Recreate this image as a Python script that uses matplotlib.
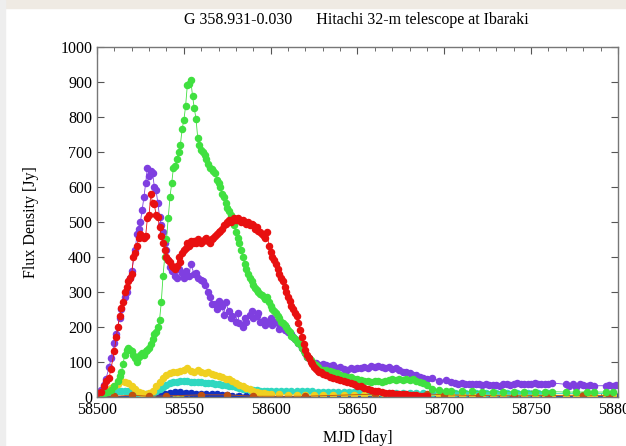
import matplotlib.pyplot as plt
from matplotlib.ticker import MultipleLocator
from matplotlib.patches import Rectangle

# (MJD, flux density in Jy) pairs
purple = [(58500, 15), (58502, 20), (58504, 35), (58505, 50), (58507, 85), (58508, 110), (58510, 155),
          (58511, 180), (58513, 225), (58514, 250), (58516, 285), (58517, 300), (58519, 340), (58520, 360),
          (58522, 420), (58523, 465), (58524, 480), (58525, 500), (58526, 535), (58527, 570), (58528, 610),
          (58529, 655), (58530, 630), (58531, 645), (58532, 640), (58533, 600), (58534, 590), (58535, 555),
          (58536, 515), (58537, 490), (58538, 470), (58539, 440), (58540, 420), (58541, 390), (58542, 370),
          (58543, 360), (58545, 345), (58546, 340), (58547, 365), (58549, 355), (58550, 340), (58551, 360),
          (58553, 345), (58554, 380), (58556, 350), (58557, 355), (58558, 340), (58560, 335), (58561, 330),
          (58562, 320), (58564, 300), (58565, 285), (58566, 265), (58568, 265), (58569, 250), (58570, 275),
          (58572, 260), (58573, 235), (58574, 270), (58576, 245), (58577, 225), (58578, 230), (58580, 215),
          (58581, 240), (58582, 210), (58584, 200), (58585, 225), (58586, 215), (58588, 235), (58589, 245),
          (58590, 225), (58592, 230), (58593, 240), (58594, 215), (58596, 220), (58597, 205), (58598, 215),
          (58600, 225), (58601, 205), (58602, 215), (58604, 210), (58605, 195), (58606, 205), (58608, 190),
          (58609, 200), (58610, 185), (58612, 180), (58613, 170), (58614, 165), (58616, 155), (58617, 150),
          (58618, 140), (58620, 125), (58621, 115), (58622, 110), (58624, 100), (58625, 95), (58626, 98),
          (58628, 90), (58630, 95), (58632, 92), (58634, 88), (58636, 90), (58638, 82), (58640, 86),
          (58642, 80), (58644, 78), (58646, 82), (58648, 80), (58650, 84), (58652, 82), (58654, 86),
          (58656, 84), (58658, 88), (58660, 86), (58662, 88), (58664, 86), (58666, 84), (58668, 86),
          (58670, 80), (58672, 82), (58674, 78), (58676, 72), (58678, 70), (58680, 68), (58682, 64),
          (58684, 62), (58686, 58), (58688, 55), (58690, 52), (58693, 55), (58697, 46), (58701, 48),
          (58704, 42), (58706, 40), (58708, 38), (58710, 40), (58712, 38), (58714, 37), (58716, 36),
          (58718, 38), (58720, 36), (58722, 34), (58724, 36), (58726, 35), (58728, 33), (58730, 34),
          (58732, 32), (58734, 36), (58736, 38), (58738, 35), (58740, 37), (58742, 40), (58744, 38),
          (58746, 36), (58748, 38), (58750, 37), (58752, 39), (58754, 36), (58756, 37), (58758, 38),
          (58760, 36), (58762, 40), (58770, 36), (58772, 30), (58774, 38), (58776, 28), (58778, 36),
          (58780, 35), (58782, 30), (58784, 34), (58786, 32), (58793, 32), (58795, 33), (58797, 32),
          (58799, 34)]

red = [(58500, 12), (58502, 15), (58504, 30), (58505, 45), (58507, 55), (58508, 80), (58510, 130),
       (58511, 170), (58512, 200), (58513, 230), (58514, 255), (58515, 270), (58516, 300), (58517, 315),
       (58518, 330), (58519, 340), (58520, 350), (58521, 400), (58522, 410), (58523, 430), (58524, 455),
       (58525, 465), (58526, 460), (58527, 455), (58528, 460), (58529, 510), (58530, 520), (58531, 580),
       (58532, 555), (58533, 550), (58534, 520), (58535, 515), (58536, 485), (58537, 460), (58538, 440),
       (58539, 420), (58540, 400), (58541, 390), (58542, 385), (58543, 375), (58544, 370), (58545, 365),
       (58546, 375), (58547, 400), (58548, 385), (58549, 410), (58550, 420), (58551, 425), (58552, 440),
       (58553, 430), (58554, 445), (58555, 440), (58556, 445), (58557, 440), (58558, 450), (58559, 445),
       (58560, 440), (58561, 445), (58562, 450), (58563, 455), (58564, 445), (58565, 440), (58566, 450),
       (58567, 455), (58568, 460), (58569, 465), (58570, 470), (58571, 475), (58572, 480), (58573, 490),
       (58574, 495), (58575, 500), (58576, 505), (58577, 500), (58578, 505), (58579, 510), (58580, 505),
       (58581, 510), (58582, 505), (58583, 500), (58584, 505), (58585, 500), (58586, 495), (58587, 500),
       (58588, 490), (58589, 495), (58590, 490), (58591, 480), (58592, 485), (58593, 475), (58594, 470),
       (58595, 465), (58596, 460), (58597, 455), (58598, 470), (58599, 430), (58600, 415), (58601, 400),
       (58602, 390), (58603, 380), (58604, 365), (58605, 350), (58606, 340), (58607, 330), (58608, 315),
       (58609, 300), (58610, 285), (58611, 275), (58612, 260), (58613, 250), (58614, 240), (58615, 230),
       (58616, 210), (58617, 190), (58618, 170), (58619, 150), (58620, 135), (58621, 120), (58622, 110),
       (58623, 100), (58624, 95), (58625, 85), (58626, 80), (58627, 75), (58628, 72), (58629, 70),
       (58630, 66), (58632, 62), (58634, 58), (58636, 55), (58638, 52), (58640, 48), (58642, 45),
       (58644, 42), (58646, 40), (58648, 36), (58650, 32), (58652, 30), (58654, 26), (58656, 24),
       (58658, 20), (58660, 18), (58662, 16), (58664, 14), (58666, 12), (58668, 11), (58670, 10),
       (58672, 9), (58674, 8), (58676, 7), (58678, 7), (58680, 6), (58682, 5), (58684, 5), (58686, 4),
       (58688, 4), (58690, 4)]

green = [(58500, 8), (58502, 10), (58504, 12), (58506, 15), (58508, 20), (58510, 30), (58512, 45),
         (58513, 60), (58514, 70), (58515, 95), (58516, 120), (58517, 135), (58518, 140), (58519, 135),
         (58520, 130), (58521, 120), (58522, 110), (58523, 100), (58524, 115), (58525, 120), (58526, 125),
         (58527, 120), (58528, 130), (58529, 135), (58530, 140), (58531, 150), (58532, 165), (58533, 180),
         (58534, 185), (58535, 200), (58536, 220), (58537, 270), (58538, 345), (58539, 400), (58540, 450),
         (58541, 510), (58542, 570), (58543, 610), (58544, 655), (58545, 660), (58546, 680), (58547, 700),
         (58548, 720), (58549, 765), (58550, 790), (58551, 830), (58552, 890), (58553, 895), (58554, 905),
         (58555, 860), (58556, 825), (58557, 795), (58558, 740), (58559, 720), (58560, 705), (58561, 700),
         (58562, 690), (58563, 680), (58564, 665), (58565, 655), (58566, 650), (58567, 645), (58568, 640),
         (58569, 620), (58570, 610), (58571, 600), (58572, 580), (58573, 570), (58574, 555), (58575, 540),
         (58576, 530), (58577, 520), (58578, 505), (58579, 490), (58580, 470), (58581, 455), (58582, 440),
         (58583, 420), (58584, 400), (58585, 380), (58586, 365), (58587, 350), (58588, 340), (58589, 330),
         (58590, 320), (58591, 310), (58592, 305), (58593, 300), (58594, 295), (58595, 290), (58596, 285),
         (58597, 280), (58598, 285), (58599, 270), (58600, 260), (58601, 250), (58602, 245), (58603, 240),
         (58604, 230), (58605, 225), (58606, 215), (58607, 210), (58608, 205), (58609, 200), (58610, 190),
         (58611, 185), (58612, 175), (58613, 170), (58614, 165), (58615, 160), (58616, 155), (58617, 150),
         (58618, 140), (58619, 130), (58620, 125), (58621, 115), (58622, 110), (58623, 105), (58624, 100),
         (58625, 95), (58626, 90), (58627, 85), (58628, 80), (58630, 78), (58632, 76), (58634, 75),
         (58636, 72), (58638, 68), (58640, 64), (58642, 60), (58644, 58), (58646, 56), (58648, 52),
         (58650, 50), (58652, 48), (58654, 46), (58656, 45), (58658, 44), (58660, 45), (58662, 46),
         (58664, 44), (58666, 46), (58668, 48), (58670, 50), (58672, 48), (58674, 50), (58676, 48),
         (58678, 50), (58680, 48), (58682, 50), (58684, 46), (58686, 44), (58688, 40), (58690, 35),
         (58693, 22), (58697, 20), (58701, 18), (58704, 17), (58710, 16), (58716, 16), (58722, 15),
         (58728, 15), (58734, 15), (58740, 15), (58746, 15), (58752, 15), (58758, 15), (58762, 15),
         (58770, 14), (58776, 14), (58782, 14), (58786, 14), (58793, 14), (58797, 14)]

cyan = [(58500, 10), (58502, 11), (58504, 12), (58506, 13), (58508, 14), (58510, 15), (58512, 16),
        (58514, 17), (58516, 18), (58518, 16), (58520, 14), (58522, 12), (58524, 10), (58526, 9),
        (58528, 8), (58530, 9), (58532, 12), (58534, 16), (58536, 22), (58538, 28), (58540, 35),
        (58542, 39), (58544, 42), (58546, 44), (58548, 46), (58550, 45), (58552, 45), (58554, 44),
        (58556, 44), (58558, 43), (58560, 42), (58562, 41), (58564, 40), (58566, 39), (58568, 38),
        (58570, 36), (58572, 35), (58574, 33), (58576, 32), (58578, 30), (58580, 28), (58582, 26),
        (58584, 24), (58586, 22), (58588, 21), (58590, 20), (58592, 19), (58594, 18), (58596, 18),
        (58598, 17), (58600, 17), (58603, 17), (58606, 18), (58609, 18), (58612, 17), (58615, 17),
        (58618, 16), (58621, 16), (58624, 16), (58627, 15), (58630, 15), (58633, 15), (58636, 15),
        (58639, 15), (58642, 14), (58645, 14), (58648, 14), (58651, 14), (58654, 13), (58657, 13),
        (58660, 12), (58664, 12), (58668, 12), (58672, 11), (58676, 11), (58680, 11), (58684, 11),
        (58688, 10), (58693, 10), (58697, 10), (58701, 10), (58706, 10), (58712, 10), (58718, 10),
        (58724, 10), (58730, 10), (58736, 10), (58742, 10), (58748, 10), (58754, 10), (58760, 10),
        (58770, 10), (58776, 10), (58782, 10), (58786, 10), (58793, 10), (58797, 10)]

yellow = [(58500, 15), (58502, 12), (58504, 15), (58506, 20), (58508, 25), (58510, 30), (58512, 38),
          (58514, 45), (58516, 42), (58518, 40), (58520, 30), (58522, 22), (58524, 15), (58526, 12),
          (58528, 8), (58530, 10), (58532, 18), (58534, 30), (58536, 42), (58538, 55), (58540, 62),
          (58542, 68), (58544, 72), (58546, 70), (58548, 75), (58550, 78), (58552, 82), (58554, 75),
          (58556, 72), (58558, 78), (58560, 70), (58562, 68), (58564, 72), (58566, 65), (58568, 62),
          (58570, 60), (58572, 58), (58574, 52), (58576, 50), (58578, 45), (58580, 40), (58582, 35),
          (58584, 30), (58586, 26), (58588, 22), (58590, 18), (58592, 15), (58594, 12), (58596, 10),
          (58598, 9), (58600, 8), (58605, 7), (58610, 6), (58615, 6), (58620, 5), (58625, 5),
          (58630, 5), (58636, 5), (58642, 5), (58648, 5), (58654, 5), (58660, 5), (58666, 5),
          (58672, 5), (58678, 5), (58684, 5), (58690, 5), (58697, 5), (58704, 5), (58710, 5),
          (58716, 5), (58722, 5), (58728, 5), (58734, 5), (58740, 5), (58746, 5), (58752, 5),
          (58758, 5), (58762, 5), (58770, 5), (58776, 5), (58782, 5), (58786, 5), (58793, 5),
          (58797, 5)]

blue = [(58500, 1), (58510, 1), (58520, 1), (58530, 2), (58533, 3), (58536, 5), (58539, 8),
        (58542, 11), (58545, 14), (58548, 13), (58551, 12), (58554, 10), (58557, 9), (58560, 9),
        (58563, 8), (58566, 8), (58569, 7), (58572, 6), (58575, 5), (58578, 4), (58582, 3),
        (58586, 2), (58590, 2), (58595, 1), (58600, 1), (58620, 1), (58650, 1), (58700, 1),
        (58750, 1), (58800, 1)]

brown = [(58500, 3), (58510, 2), (58520, 5), (58530, 2), (58540, 3), (58560, 6), (58575, 6),
         (58590, 2), (58620, 2), (58660, 8), (58675, 5), (58690, 9), (58700, 6), (58720, 4),
         (58740, 3), (58760, 4), (58780, 5), (58795, 4)]

olive = [(58500, 3), (58550, 3), (58600, 3), (58650, 3), (58700, 3), (58750, 3), (58800, 3)]

series = [(olive, '#a0b020'), (blue, '#1030c0'), (cyan, '#30d8c0'), (yellow, '#f0d020'),
          (brown, '#c05010'), (purple, '#7f3fe0'), (green, '#40e040'), (red, '#e81010')]

plt.rcParams['font.family'] = ['Liberation Serif', 'DejaVu Serif']

fig = plt.figure(figsize=(6.26, 4.46), dpi=100)
fig.patches.append(Rectangle((0, 0.982), 1, 0.018, transform=fig.transFigure,
                             color='#efeae3', zorder=-1))
fig.patches.append(Rectangle((0, 0), 0.008, 1, transform=fig.transFigure,
                             color='#eeeeee', zorder=-1))
ax = fig.add_axes([0.155, 0.110, 0.832, 0.785])

for data, col in series:
    xs = [p[0] for p in data]
    ys = [p[1] for p in data]
    ax.plot(xs, ys, '-o', color=col, lw=0.6, ms=4.4, mec=col, clip_on=True)

ax.set_xlim(58500, 58800)
ax.set_ylim(0, 1000)
ax.xaxis.set_major_locator(MultipleLocator(50))
ax.xaxis.set_minor_locator(MultipleLocator(10))
ax.yaxis.set_major_locator(MultipleLocator(100))
ax.tick_params(which='both', direction='in', top=True, right=True, colors='#555555',
               labelcolor='black', labelsize=11.5)
ax.tick_params(which='major', length=5)
ax.tick_params(which='minor', length=3)
for s in ax.spines.values():
    s.set_color('#777777')
    s.set_linewidth(1.0)

ax.set_xlabel('MJD [day]', fontsize=11.5, labelpad=9)
ax.set_ylabel('Flux Density [Jy]', fontsize=11.5, labelpad=15)
fig.text(0.57, 0.955, 'G 358.931-0.030      Hitachi 32-m telescope at Ibaraki',
         ha='center', va='center', fontsize=11.5)

fig.savefig('out.png', dpi=100)
